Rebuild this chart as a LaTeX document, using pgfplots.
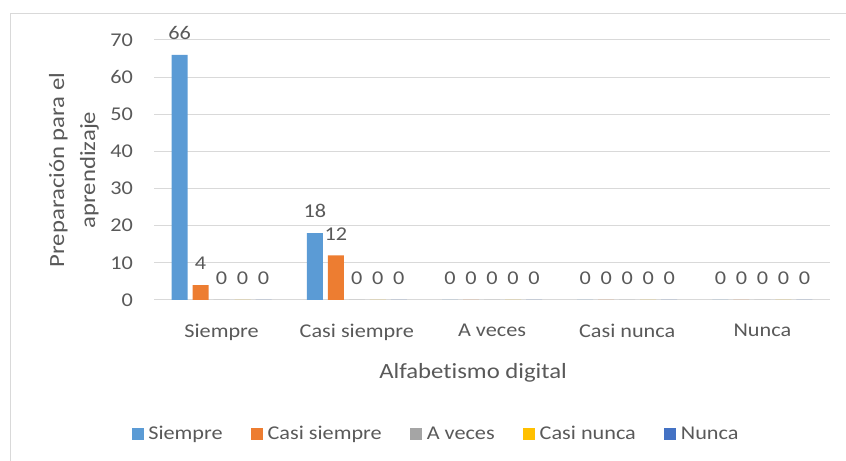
\documentclass[border=0pt]{standalone}
\usepackage{pgfplots}
\pgfplotsset{compat=1.18}
\usepackage{fontspec}
\setmainfont[FakeStretch=1.14, Ligatures=NoCommon]{Carlito}
\definecolor{cS}{HTML}{5B9BD5}
\definecolor{cCS}{HTML}{ED7D31}
\definecolor{cAV}{HTML}{A5A5A5}
\definecolor{cCN}{HTML}{FFC000}
\definecolor{cN}{HTML}{4472C4}
\definecolor{gridgray}{HTML}{D9D9D9}
\definecolor{txt}{HTML}{595959}
\newcommand\tickfont{\fontsize{19.5bp}{23bp}\selectfont}
\newcommand\titlefont{\fontsize{21.7bp}{31bp}\selectfont}
\begin{document}
\begin{tikzpicture}[x=1bp,y=1bp]
\path[use as bounding box] (0,0) rectangle (846,461);
\draw[gridgray, line width=1bp] (10.5,0) -- (10.5,447.5) -- (846,447.5);
\begin{axis}[
  at={(154bp,161bp)}, anchor=south west,
  scale only axis, width=676bp, height=260bp,
  xmin=-0.5, xmax=4.5, ymin=0, ymax=70,
  ybar=5bp, bar width=16bp,
  xtick={0,1,2,3,4},
  xticklabels={Siempre, Casi siempre, A veces, Casi nunca, Nunca},
  ytick={0,10,...,70},
  major tick length=0pt,
  ymajorgrids, grid style={line width=1bp, color=gridgray},
  axis line style={draw=none},
  tick label style={font=\tickfont, text=txt},
  yticklabel style={anchor=east, inner sep=0pt, xshift=-21bp},
  xticklabel style={anchor=north, inner sep=0pt, yshift=-24bp},
  /pgf/number format/assume math mode=true,
  nodes near coords,
  nodes near coords style={font=\tickfont, text=txt, inner sep=0pt, anchor=south, yshift=15bp},
  xlabel={Alfabetismo digital},
  xlabel style={at={(axis description cs:0.472,-0.2423)}, anchor=north, inner sep=0pt, font=\titlefont, text=txt},
  ylabel={Preparación para el\\aprendizaje},
  ylabel style={at={(axis description cs:-0.1183,0.5)}, anchor=center, align=center, font=\titlefont, text=txt},
  legend columns=5,
  legend style={at={(axis description cs:0.417,-0.515)}, anchor=center, draw=none, fill=none,
    font=\tickfont, text=txt, nodes={inner sep=1.5bp},
    /tikz/every odd column/.append style={column sep=3bp},
    /tikz/every even column/.append style={column sep=27bp}},
  legend image code/.code={\fill[#1] (0bp,-6bp) rectangle (12bp,6bp);},
]
\addplot[fill=cS, draw=none] coordinates {(0,66) (1,18) (2,0) (3,0) (4,0)};
\addplot[fill=cCS, draw=none] coordinates {(0,4) (1,12) (2,0) (3,0) (4,0)};
\addplot[fill=cAV, draw=none] coordinates {(0,0) (1,0) (2,0) (3,0) (4,0)};
\addplot[fill=cCN, draw=none] coordinates {(0,0) (1,0) (2,0) (3,0) (4,0)};
\addplot[fill=cN, draw=none] coordinates {(0,0) (1,0) (2,0) (3,0) (4,0)};
\legend{Siempre, Casi siempre, A veces, Casi nunca, Nunca}
\end{axis}
\end{tikzpicture}
\end{document}
